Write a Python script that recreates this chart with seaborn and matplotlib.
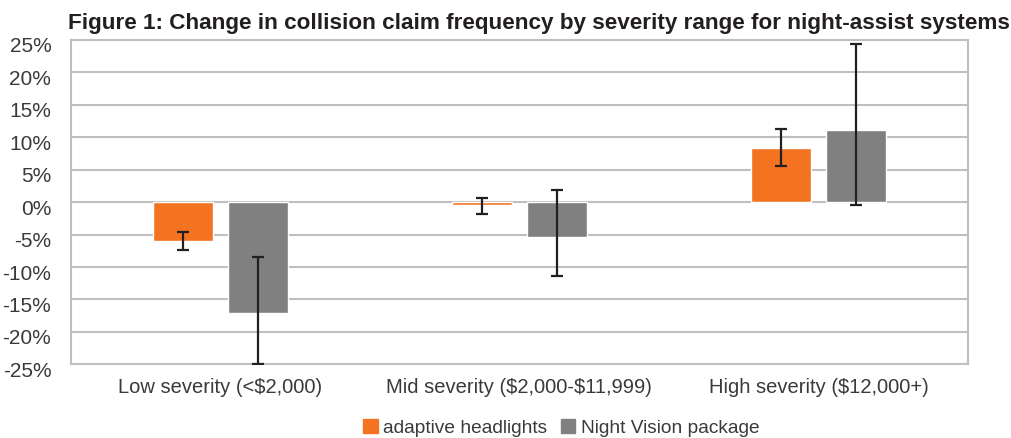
import matplotlib
matplotlib.use('Agg')
import matplotlib.pyplot as plt
import seaborn as sns
import pandas as pd
import numpy as np
from matplotlib.transforms import ScaledTranslation

# ---- data ----
categories = ["Low severity (<$2,000)", "Mid severity ($2,000-$11,999)", "High severity ($12,000+)"]
series = ["adaptive headlights", "Night Vision package"]
headlights = [-6.0, -0.45, 8.4]
headlights_lo = [-7.4, -1.8, 5.5]
headlights_hi = [-4.6, 0.7, 11.3]
nightvision = [-17.1, -5.4, 11.2]
nightvision_lo = [-25.0, -11.4, -0.5]
nightvision_hi = [-8.4, 1.8, 24.4]
yticks = [-25, -20, -15, -10, -5, 0, 5, 10, 15, 20, 25]
title = "Figure 1: Change in collision claim frequency by severity range for night-assist systems"

colors = ["#F37321", "#808080"]
text_color = "#3a3a3a"
grid_color = "#BFBFBF"
fs = 14.5

sns.set_theme(style="white")
plt.rcParams['font.family'] = ['Liberation Sans', 'DejaVu Sans']
plt.rcParams['text.parse_math'] = False

df = pd.DataFrame({
    "category": categories * 2,
    "series": [series[0]] * 3 + [series[1]] * 3,
    "value": headlights + nightvision,
})

fig = plt.figure(figsize=(10.11, 4.38), dpi=100)
ax = fig.add_axes([70.7 / 1011, (438 - 364.3) / 438, (968 - 70.7) / 1011, (364.3 - 40) / 438])

sns.barplot(data=df, x="category", y="value", hue="series", order=categories,
            hue_order=series, palette=colors, width=0.5, gap=0.2, errorbar=None,
            saturation=1, ax=ax, zorder=3, legend=False)

# error bars
vals = [headlights, nightvision]
los = [headlights_lo, nightvision_lo]
his = [headlights_hi, nightvision_hi]
for cont, v, lo, hi in zip(ax.containers, vals, los, his):
    xs = [b.get_x() + b.get_width() / 2 for b in cont]
    v = np.array(v); lo = np.array(lo); hi = np.array(hi)
    ax.errorbar(xs, v, yerr=[v - lo, hi - v], fmt='none', ecolor="#231f20",
                elinewidth=1.6, capsize=4, capthick=1.6, zorder=4)

ax.set_ylim(-25, 25)
ax.set_xlim(-0.5, 2.5)
ax.set_yticks(yticks)
ax.set_yticklabels([f"{t}%" for t in yticks])
ax.set_xticks(range(len(categories)))
ax.set_xticklabels(categories)
ax.yaxis.grid(True, color=grid_color, lw=1.5, zorder=0)
ax.set_axisbelow(True)
for s in ax.spines.values():
    s.set_color(grid_color)
    s.set_linewidth(1.5)
ax.set_xlabel("")
ax.set_ylabel("")
ax.tick_params(axis='y', length=0, pad=14, labelsize=fs + 0.5, labelcolor=text_color)
ax.tick_params(axis='x', length=0, pad=10, labelsize=fs, labelcolor=text_color)
off = ScaledTranslation(0, -5 / 100, fig.dpi_scale_trans)
for lbl in ax.get_yticklabels():
    lbl.set_transform(lbl.get_transform() + off)

fig.text(68 / 1011, 1 - 29 / 438, title, ha='left', va='baseline',
         fontsize=16.2, fontweight='bold', color='#231f20')

handles = [plt.Rectangle((0, 0), 1, 1, color=c) for c in colors]
fig.legend(handles, series, loc='center', bbox_to_anchor=(561.5 / 1011, 10 / 438),
           ncol=2, frameon=False, fontsize=13.8, labelcolor=text_color,
           handlelength=0.75, handleheight=0.75, handletextpad=0.3, columnspacing=0.7,
           borderpad=0, borderaxespad=0)

fig.savefig("out.png", dpi=100)
